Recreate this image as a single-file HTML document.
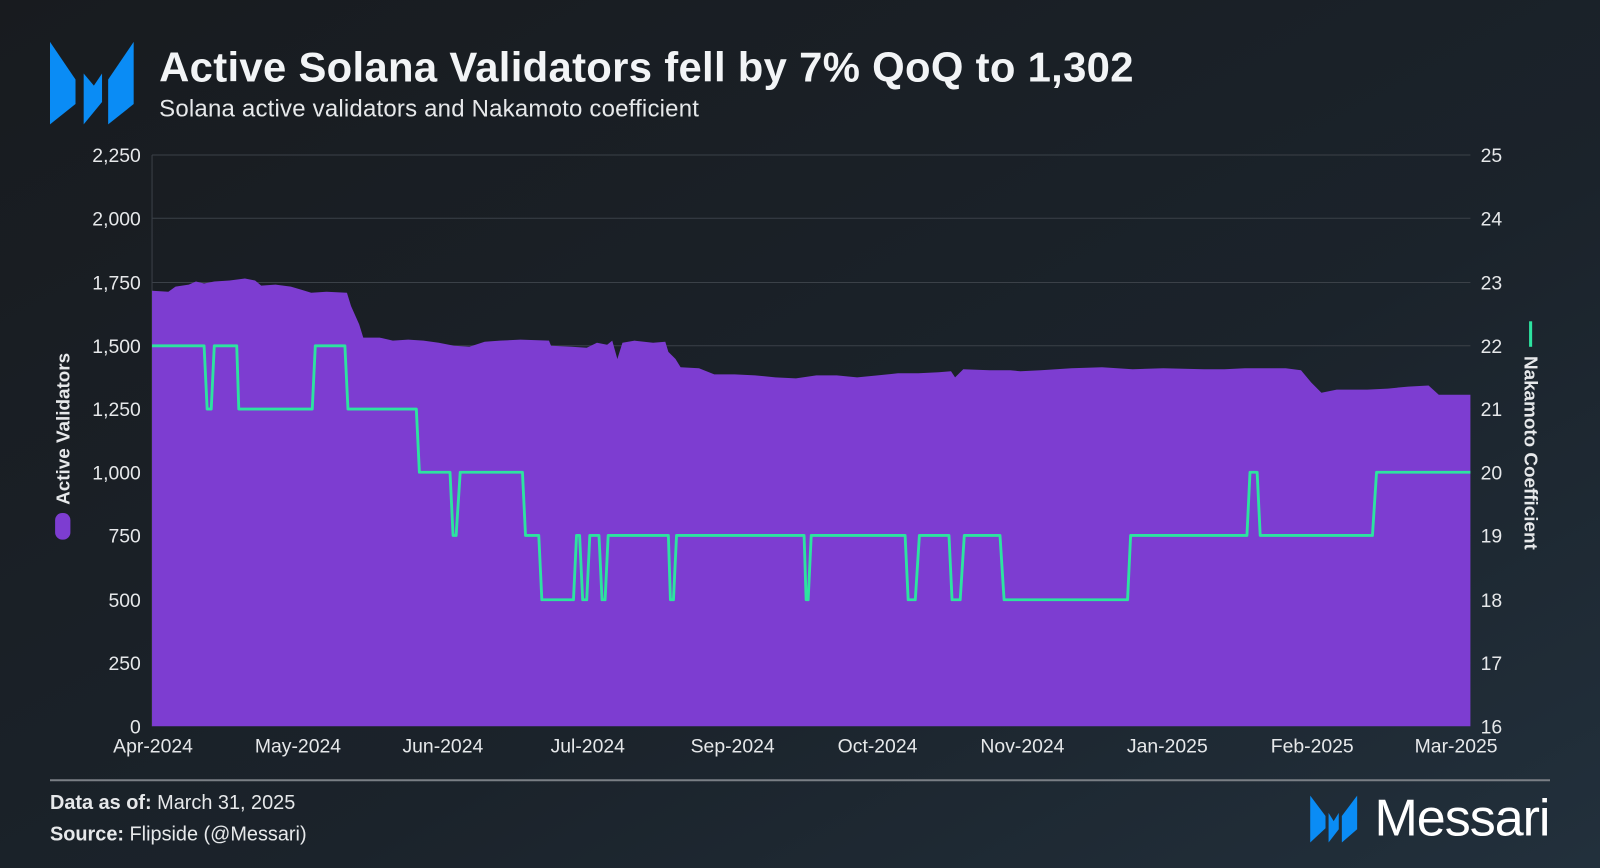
<!DOCTYPE html>
<html><head><meta charset="utf-8"><style>
html,body{margin:0;padding:0;width:1600px;height:868px;overflow:hidden;background:#1b2027}
</style></head><body>
<svg width="1600" height="868" viewBox="0 0 1568 851" preserveAspectRatio="none" xmlns="http://www.w3.org/2000/svg" font-family="Liberation Sans, sans-serif">
<defs>
<linearGradient id="bg" x1="0" y1="0" x2="1" y2="1">
<stop offset="0" stop-color="#181b1f"/><stop offset="0.6" stop-color="#1b232b"/><stop offset="1" stop-color="#22303c"/>
</linearGradient>
</defs>
<rect width="1568" height="851" fill="url(#bg)"/>
<g fill="#0a8cf5">
<polygon points="49,41 74,78 74,102 49,122"/>
<polygon points="82,72 92,84 100,72 100,100 82,122"/>
<polygon points="106,78 131,41 131,102 106,122"/>
</g>
<text x="156" y="80" font-size="41" font-weight="bold" fill="#f2f4f6" letter-spacing="0.3">Active Solana Validators fell by 7% QoQ to 1,302</text>
<text x="156" y="114" font-size="23.5" fill="#e6e8ea" letter-spacing="0.2">Solana active validators and Nakamoto coefficient</text>
<g stroke="#3b4148" stroke-width="1">
<line x1="149" y1="152" x2="1441" y2="152"/><line x1="149" y1="214" x2="1441" y2="214"/>
<line x1="149" y1="277" x2="1441" y2="277"/><line x1="149" y1="339" x2="1441" y2="339"/>
<line x1="149" y1="401" x2="1441" y2="401"/><line x1="149" y1="463" x2="1441" y2="463"/>
<line x1="149" y1="525" x2="1441" y2="525"/><line x1="149" y1="588" x2="1441" y2="588"/>
<line x1="149" y1="650" x2="1441" y2="650"/><line x1="149" y1="152" x2="149" y2="712"/>
</g>
<g fill="#e6e8ea" font-size="19" text-anchor="end">
<text x="138" y="159">2,250</text><text x="138" y="221">2,000</text><text x="138" y="284">1,750</text>
<text x="138" y="346">1,500</text><text x="138" y="408">1,250</text><text x="138" y="470">1,000</text>
<text x="138" y="532">750</text><text x="138" y="595">500</text><text x="138" y="657">250</text><text x="138" y="719">0</text>
</g>
<g fill="#e6e8ea" font-size="19">
<text x="1451" y="159">25</text><text x="1451" y="221">24</text><text x="1451" y="284">23</text>
<text x="1451" y="346">22</text><text x="1451" y="408">21</text><text x="1451" y="470">20</text>
<text x="1451" y="532">19</text><text x="1451" y="595">18</text><text x="1451" y="657">17</text><text x="1451" y="719">16</text>
</g>
<path fill="#7d3dd1" d="M149,712 L149,285 L165,286 L172,281 L185,279 L192,276 L200,278 L210,276 L225,275 L240,273 L250,275 L256,280 L270,279 L285,281 L295,284 L305,287 L320,286 L340,287 L344,300 L352,318 L356,331 L372,331 L385,334 L400,333 L415,334 L430,336 L445,339 L460,340 L475,335 L490,334 L510,333 L538,334 L540,339 L560,340 L575,341 L585,336 L595,338 L600,334 L605,352 L610,336 L622,334 L640,336 L652,335 L655,345 L662,352 L667,360 L685,361 L700,367 L720,367 L740,368 L760,370 L780,371 L800,368 L820,368 L840,370 L860,368 L880,366 L900,366 L920,365 L932,364 L936,370 L944,362 L970,363 L990,363 L1000,364 L1020,363 L1050,361 L1080,360 L1110,362 L1140,361 L1180,362 L1200,362 L1220,361 L1260,361 L1275,363 L1285,375 L1295,385 L1310,382 L1340,382 L1360,381 L1380,379 L1400,378 L1410,387 L1441,387 L1441,712 Z"/>
<polyline fill="none" stroke="#2de3a0" stroke-width="2.8" stroke-linejoin="round" points="149,339 200,339 203,401 207,401 210,339 232,339 234,401 306,401 309,339 338,339 341,401 408,401 411,463 441,463 444,525 447,525 451,463 512,463 515,525 528,525 531,588 562,588 565,525 568,525 571,588 575,588 578,525 587,525 590,588 593,588 596,525 655,525 657,588 660,588 663,525 788,525 790,588 792,588 795,525 887,525 890,588 897,588 901,525 930,525 933,588 941,588 945,525 980,525 984,588 1105,588 1108,525 1222,525 1225,463 1232,463 1235,525 1345,525 1349,463 1441,463"/>
<g fill="#e6e8ea" font-size="19" text-anchor="middle">
<text x="150" y="738">Apr-2024</text><text x="292" y="738">May-2024</text><text x="434" y="738">Jun-2024</text>
<text x="576" y="738">Jul-2024</text><text x="718" y="738">Sep-2024</text><text x="860" y="738">Oct-2024</text>
<text x="1002" y="738">Nov-2024</text><text x="1144" y="738">Jan-2025</text><text x="1286" y="738">Feb-2025</text>
<text x="1427" y="738">Mar-2025</text>
</g>
<rect x="54" y="503" width="15" height="26" rx="7" fill="#7d3dd1"/>
<text transform="translate(68,495) rotate(-90)" font-size="18.5" font-weight="bold" fill="#e6e8ea">Active Validators</text>
<line x1="1500" y1="315" x2="1500" y2="340" stroke="#2de3a0" stroke-width="3"/>
<text transform="translate(1494,349) rotate(90)" font-size="18.5" font-weight="bold" fill="#e6e8ea">Nakamoto Coefficient</text>
<line x1="49" y1="765" x2="1519" y2="765" stroke="#7a7f85" stroke-width="2"/>
<text x="49" y="793" font-size="19.5" fill="#e6e8ea"><tspan font-weight="bold">Data as of:</tspan> March 31, 2025</text>
<text x="49" y="824" font-size="19.5" fill="#e6e8ea"><tspan font-weight="bold">Source:</tspan> Flipside (@Messari)</text>
<g fill="#0a8cf5">
<polygon points="1284,780 1299,800 1299,812 1284,826"/>
<polygon points="1302,797 1307,805 1312,797 1312,813 1302,826"/>
<polygon points="1315,800 1330,780 1330,813 1315,826"/>
</g>
<text x="1347" y="819" font-size="51" fill="#ffffff" letter-spacing="-1">Messari</text>
</svg>
</body></html>
